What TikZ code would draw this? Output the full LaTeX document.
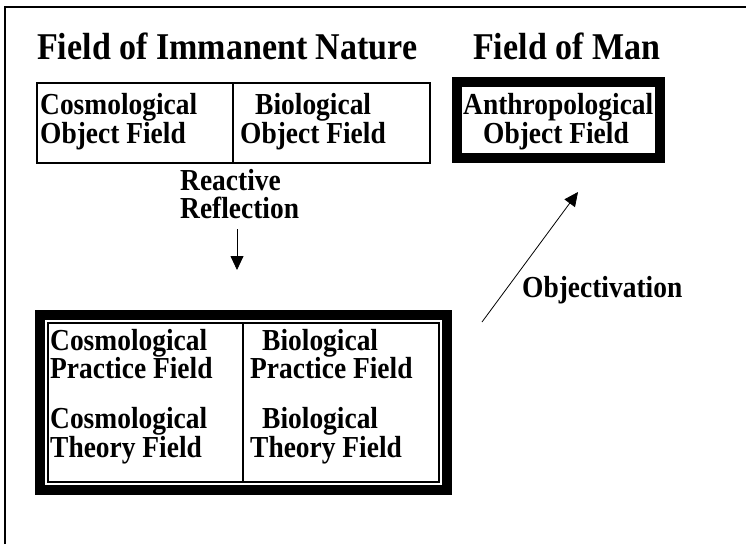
\documentclass[tikz,border=0pt]{standalone}
\usepackage{fontspec}
\setmainfont{Liberation Serif}[FakeStretch=0.9]
\usetikzlibrary{arrows.meta}
\begin{document}
\begin{tikzpicture}[x=1pt,y=-1pt]
\tikzset{titre/.style={anchor=base west, inner sep=0pt, font=\bfseries\fontsize{37.8}{40}\selectfont},
texte/.style={anchor=base west, inner sep=0pt, font=\bfseries\fontsize{30.5}{32}\selectfont},
fleche/.style={line width=0.8pt, -{Triangle[length=14pt,width=13pt]}}}
\useasboundingbox (0,0) rectangle (746,544);
\draw[line width=1.2pt] (5,544) -- (5,7) -- (746,7);
\node[titre] (TNat) at (37,59) {Field of Immanent Nature};
\node[titre] (TMan) at (473,59) {Field of Man};
\draw[line width=1.2pt] (37,83) rectangle (430,163);
\draw[line width=1.2pt] (233,83) -- (233,163);
\node[texte] (OC1) at (40,114) {Cosmological};
\node[texte] (OC2) at (40,143) {Object Field};
\node[texte] (OB1) at (255,114) {Biological};
\node[texte] (OB2) at (240,143) {Object Field};
\draw[line width=10pt] (457,82) rectangle (660,158);
\node[texte] (OA1) at (463,114) {Anthropological};
\node[texte] (OA2) at (483,143) {Object Field};
\node[texte] (R1) at (180,190) {Reactive};
\node[texte] (R2) at (180,218) {Reflection};
\coordinate (RD) at (237,229);
\coordinate (RF) at (237,270);
\draw[fleche] (RD) -- (RF);
\node[texte] (Obj) at (522,297) {Objectivation};
\coordinate (OD) at (482,322);
\coordinate (OF) at (578,192);
\draw[fleche] (OD) -- (OF);
\draw[line width=10pt] (40,315) rectangle (447,490);
\draw[line width=1.5pt] (48,323) rectangle (439,482);
\draw[line width=1.5pt] (243,323) -- (243,482);
\node[texte] (PC1) at (50,350) {Cosmological};
\node[texte] (PC2) at (50,378) {Practice Field};
\node[texte] (TC1) at (50,428) {Cosmological};
\node[texte] (TC2) at (50,457) {Theory Field};
\node[texte] (PB1) at (262,350) {Biological};
\node[texte] (PB2) at (250,378) {Practice Field};
\node[texte] (TB1) at (262,428) {Biological};
\node[texte] (TB2) at (250,457) {Theory Field};
\end{tikzpicture}
\end{document}
